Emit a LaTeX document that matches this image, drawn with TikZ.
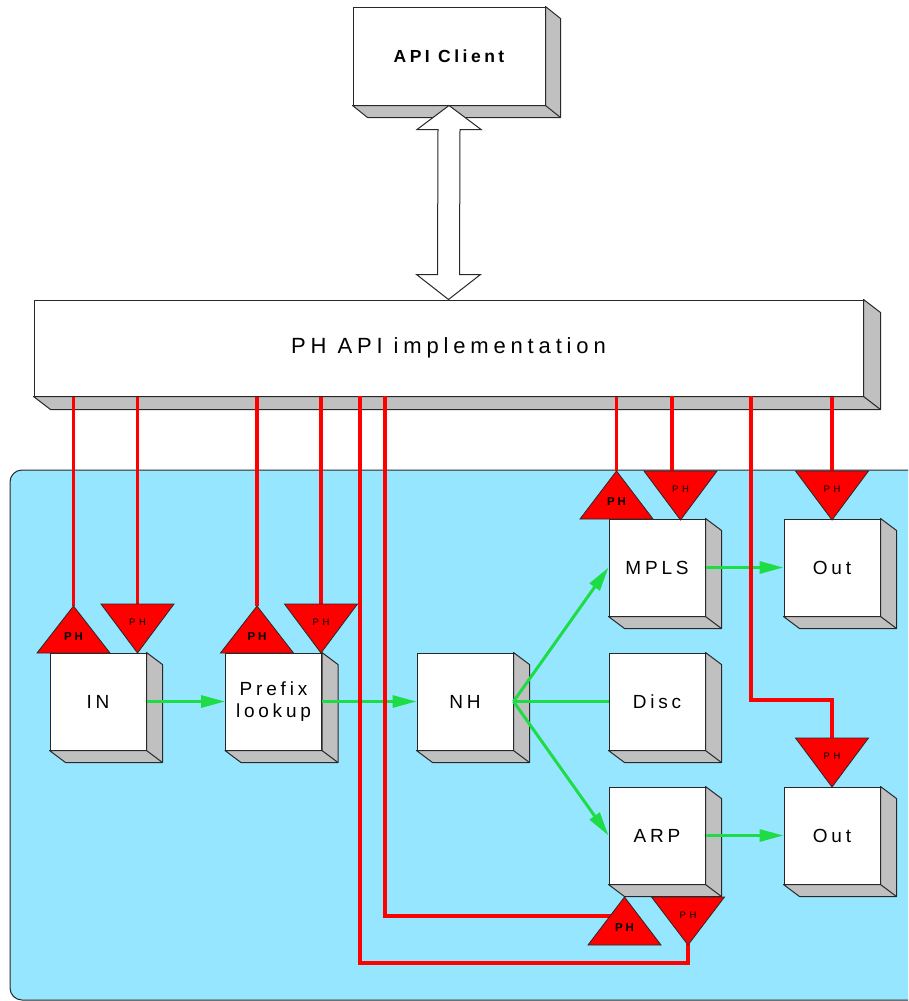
\documentclass[tikz,border=0pt]{standalone}
\usepackage{fontspec}
\setmainfont{Liberation Sans}
\usetikzlibrary{arrows.meta,calc}
\definecolor{bgblue}{RGB}{150,230,255}
\definecolor{sidegrey}{RGB}{192,192,192}
\definecolor{edgec}{RGB}{40,40,40}
\definecolor{phred}{RGB}{255,0,0}
\definecolor{flowc}{RGB}{30,220,70}
\newcommand\boxfont{\fontsize{19}{22}\selectfont\addfontfeature{LetterSpace=20}}
\newcommand\apifont{\fontsize{22}{26}\selectfont\addfontfeature{LetterSpace=22}}
\newcommand\clientfont{\fontsize{17.5}{20}\selectfont\bfseries\addfontfeature{LetterSpace=20}}
\newcommand\phboldfont{\fontsize{11.5}{13}\selectfont\bfseries\addfontfeature{LetterSpace=25}}
\newcommand\phlightfont{\fontsize{9.5}{11}\selectfont\addfontfeature{LetterSpace=40}}
\tikzset{
  face/.style={draw=edgec, fill=white, line width=1pt, inner sep=0pt, align=center, text=black},
  smallcube/.style={face, minimum width=96pt, minimum height=97pt, font=\boxfont},
  shadeface/.style={fill=sidegrey, draw=edgec, line width=1pt, line join=round},
  phline/.style={draw=phred, line width=3.2pt},
  flowline/.style={draw=flowc, line width=3pt},
  flowarrow/.style={flowline, -{Triangle[length=24pt,width=12pt]}},
  phtri/.style={fill=phred, draw=edgec, line width=0.8pt, line join=miter},
}
\newcommand\shadecube[3]{%
  \filldraw[shadeface] (#1.north east) -- ++(#2,#3) -- ($(#1.south east)+(#2,#3)$)
    -- ($(#1.south west)+(#2,#3)$) -- (#1.south west) -- (#1.south east) -- cycle;
  \draw[edgec, line width=1pt] (#1.south east) -- ++(#2,#3);
}
\newcommand\phup[3]{% name, apex, height
  \filldraw[phtri] (#1) -- ++(36.5,#3) -- ++(-73,0) -- cycle;
  \node[text=black, font=\phboldfont, inner sep=0pt] at ($(#1)+(0,31)$) {PH};
}
\newcommand\phdown[3]{% name, top centre, height
  \filldraw[phtri] (#1) ++(-36.5,0) -- ++(73,0) -- ++(-36.5,#3) -- cycle;
  \node[text=black, font=\phlightfont, inner sep=0pt] at ($(#1)+(0,18)$) {PH};
}
\begin{document}
\begin{tikzpicture}[x=1pt, y=-1pt]
\useasboundingbox (0,0) rectangle (908,1001);
% background region (its right side lies outside the picture)
\begin{scope}
  \clip (0,0) rectangle (908,1001);
  \fill[bgblue, rounded corners=12pt] (10,470) rectangle (960,1000);
  \draw[edgec, line width=1pt, rounded corners=12pt] (960,470) -- (10,470) -- (10,1000) -- (960,1000);
\end{scope}

% API client
\node[face, minimum width=192pt, minimum height=98pt, font=\clientfont] (client) at (449,56) {API Client};
\shadecube{client}{15}{12}

% PH API implementation
\node[face, minimum width=829pt, minimum height=96pt, font=\apifont] (api) at (448.5,348) {PH API implementation};
\shadecube{api}{17}{13}

% double arrow
\filldraw[fill=white, draw=edgec, line width=1pt, line join=miter]
  (client.south) -- ++(32,24) -- ++(-21,0) -- ($(api.north)+(11,-25)$) -- ++(21,0)
  -- (api.north) -- ++(-32,-25) -- ++(21,0) -- ($(client.south)+(-11,24)$) -- ++(-21,0) -- cycle;

% small cubes
\node[smallcube] (in) at (98,701.5) {IN};
\node[smallcube] (prefix) at (273.5,701.5) {Prefix\\lookup};
\node[smallcube] (nh) at (465,701.5) {NH};
\node[smallcube] (disc) at (657,701.5) {Disc};
\node[smallcube] (mpls) at (657,567.5) {MPLS};
\node[smallcube] (out1) at (832,567.5) {Out};
\node[smallcube] (arp) at (657,835.5) {ARP};
\node[smallcube] (out2) at (832,835.5) {Out};
\foreach \n in {in,prefix,nh,disc,mpls,out1,arp,out2} {\shadecube{\n}{16}{12}}

% green flow
\draw[flowarrow] (in.east) -- (prefix.west);
\draw[flowarrow] (prefix.east) -- (nh.west);
\draw[flowarrow] (nh.east) -- (mpls.west);
\draw[flowline] (nh.east) -- (disc.west);
\draw[flowarrow] (nh.east) -- (arp.west);
\draw[flowarrow] (mpls.east) -- (out1.west);
\draw[flowarrow] (arp.east) -- (out2.west);

% triangle anchor points
\coordinate (inup) at (73.5,606);
\coordinate (indn) at (137.5,604);
\coordinate (prefixup) at (257,606);
\coordinate (prefixdn) at (321,604);
\coordinate (mplsup) at (616.5,471);
\coordinate (mplsdn) at (680.5,471);
\coordinate (out1dn) at (832,471);
\coordinate (out2dn) at (832,738);
\coordinate (arpup) at (624.5,897);
\coordinate (arpdn) at (688,897);
% tap points on the API box
\coordinate (tapA) at (360,396);
\coordinate (tapB) at (385,396);
\coordinate (tapC) at (672,396);
\coordinate (tapD) at (751,396);

% red connectors
\draw[phline] (api.south -| inup) -- (inup);
\draw[phline] (api.south -| indn) -- (indn);
\draw[phline] (api.south -| prefixup) -- (prefixup);
\draw[phline] (api.south -| prefixdn) -- (prefixdn);
\draw[phline] (api.south -| mplsup) -- (mplsup);
\draw[phline] (tapC) -- (tapC |- mplsdn);
\draw[phline] (api.south -| out1dn) -- (out1dn);
\draw[phline] (tapD) |- ($(out2dn)+(0,-38)$) -- (out2dn);
\draw[phline] (tapB) |- ($(arpup)+(0,19)$);
\draw[phline] (tapA) |- ($(arpdn)+(0,66)$) -- ($(arpdn)+(0,47)$);

% PH triangles
\phup{inup}{}{47}
\phdown{indn}{}{49}
\phup{prefixup}{}{47}
\phdown{prefixdn}{}{49}
\phup{mplsup}{}{48}
\phdown{mplsdn}{}{49}
\phdown{out1dn}{}{49}
\phdown{out2dn}{}{49}
\phup{arpup}{}{48}
\phdown{arpdn}{}{48}
\end{tikzpicture}
\end{document}
